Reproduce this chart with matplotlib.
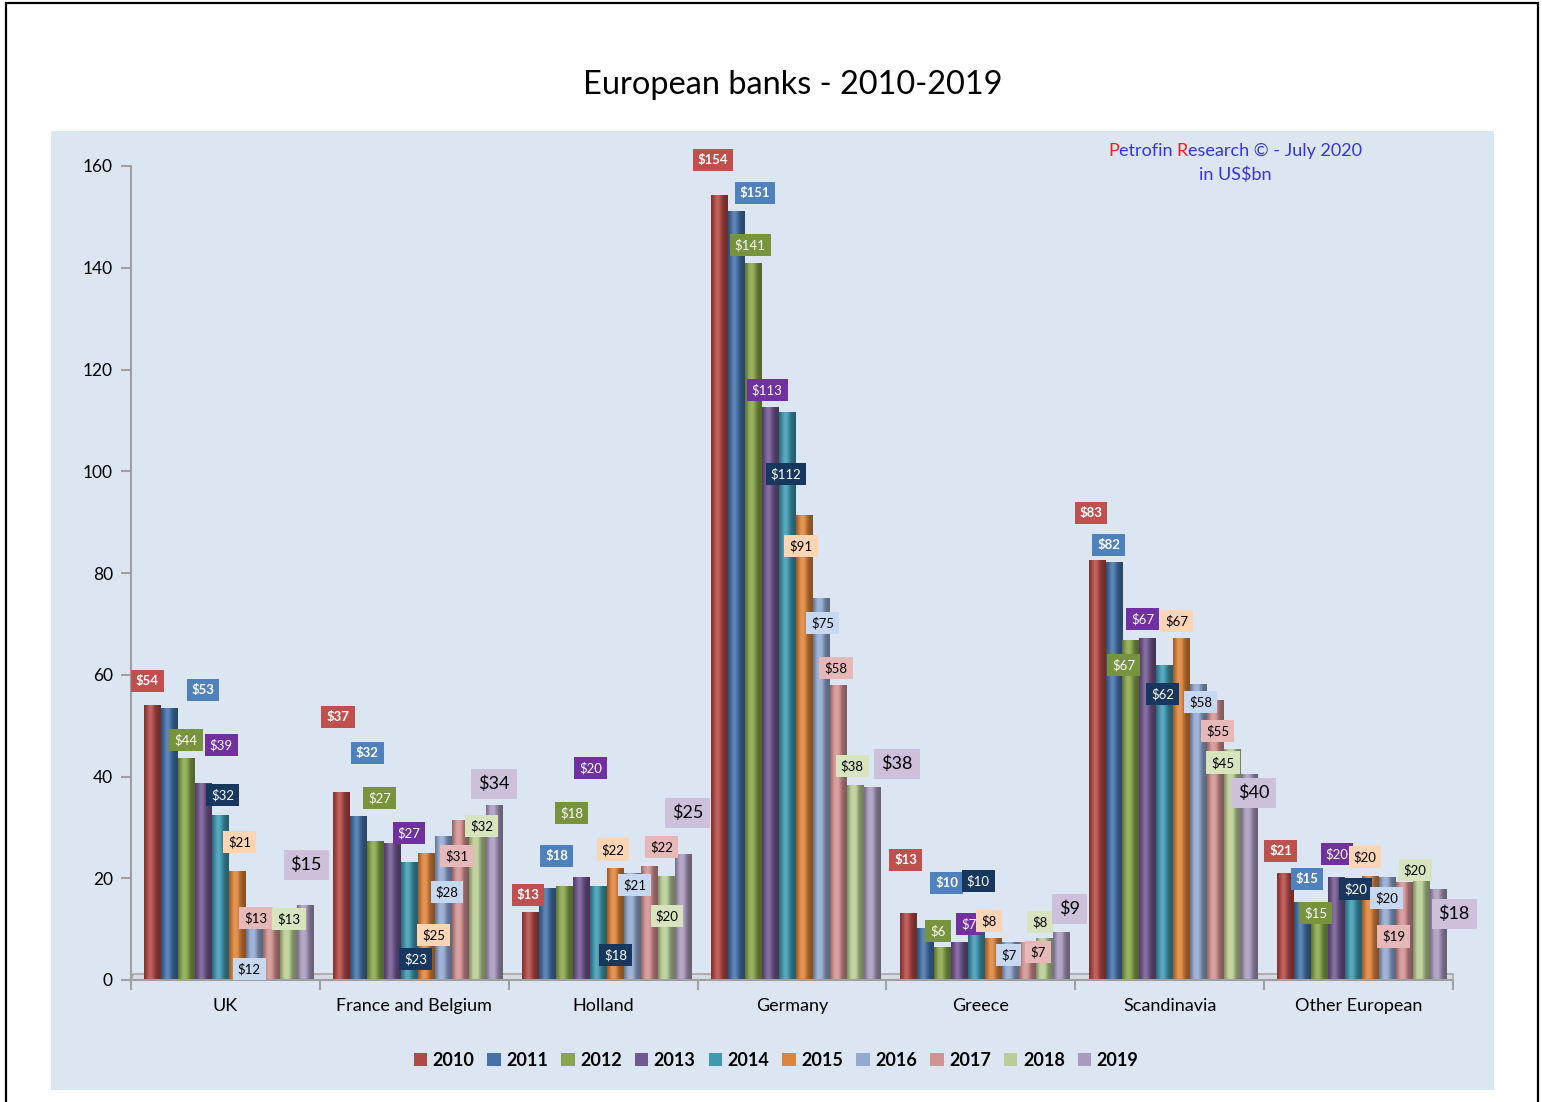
import numpy as np
import matplotlib
matplotlib.use('Agg')
import matplotlib.pyplot as plt
from matplotlib.patches import Rectangle, Polygon, Patch
from matplotlib.colors import to_rgb

plt.rcParams['font.family'] = ['Lato', 'DejaVu Sans']

# --- data (US$bn) ---
categories = ['UK', 'France and Belgium', 'Holland', 'Germany', 'Greece', 'Scandinavia', 'Other European']
years = [2010, 2011, 2012, 2013, 2014, 2015, 2016, 2017, 2018, 2019]

v2010 = [54.0, 37.0, 13.4, 154.3, 13.2, 82.6, 21.0]
v2011 = [53.4, 32.2, 18.1, 151.2, 10.2, 82.1, 15.3]
v2012 = [43.7, 27.4, 18.4, 140.9, 6.4, 66.8, 14.8]
v2013 = [38.8, 26.9, 20.3, 112.6, 7.4, 67.3, 20.2]
v2014 = [32.4, 23.1, 18.4, 111.6, 9.6, 61.9, 20.1]
v2015 = [21.4, 25.0, 22.1, 91.4, 8.3, 67.2, 20.4]
v2016 = [12.4, 28.4, 21.0, 75.1, 7.4, 58.2, 20.2]
v2017 = [13.0, 31.4, 22.4, 57.9, 7.4, 55.0, 19.3]
v2018 = [13.0, 32.4, 20.4, 38.4, 8.2, 45.4, 20.3]
v2019 = [14.8, 34.3, 24.8, 37.9, 9.4, 40.4, 17.9]
series = [v2010, v2011, v2012, v2013, v2014, v2015, v2016, v2017, v2018, v2019]

# --- styles ---
bar_colors = ['#b04a47', '#4572a7', '#89a54e', '#71588f', '#4198af',
              '#db843d', '#93a9cf', '#d19392', '#b9cd96', '#a99bbd']
box_colors = ['#c0504d', '#4f81bd', '#77933c', '#7030a0', '#17375e',
              '#fcd5b5', '#c6d9f1', '#e6b9b8', '#d7e4bd', '#ccc0da']
text_colors = ['white'] * 5 + ['black'] * 5
text_weights = ['bold', 'bold', 'normal', 'normal', 'normal',
                'normal', 'normal', 'normal', 'normal', 'normal']
text_sizes = [9.5] * 9 + [13]

# label placement (offset from group centre in group widths, height in data units)
label_xy = {
    2010: [(-0.415, 58.8), (-0.404, 51.7), (-0.398, 16.7), (-0.418, 161.2), (-0.397, 23.6), (-0.417, 91.8), (-0.411, 25.4)],
    2011: [(-0.119, 57.0), (-0.250, 44.6), (-0.245, 24.4), (-0.196, 154.7), (-0.180, 19.1), (-0.322, 85.5), (-0.273, 19.9)],
    2012: [(-0.209, 47.2), (-0.182, 35.8), (-0.165, 32.8), (-0.222, 144.5), (-0.227, 9.6), (-0.243, 61.9), (-0.226, 13.2)],
    2013: [(-0.023, 46.2), (-0.028, 28.9), (-0.065, 41.7), (-0.132, 116.0), (-0.063, 11.0), (-0.142, 71.0), (-0.114, 24.8)],
    2014: [(-0.013, 36.4), (0.009, 4.1), (0.068, 4.9), (-0.032, 99.5), (-0.015, 19.5), (-0.036, 56.2), (-0.014, 17.9)],
    2015: [(0.077, 27.1), (0.104, 8.8), (0.052, 25.6), (0.048, 85.3), (0.043, 11.6), (0.038, 70.6), (0.034, 24.2)],
    2016: [(0.125, 2.2), (0.173, 17.3), (0.168, 18.7), (0.164, 70.2), (0.148, 4.9), (0.165, 54.6), (0.150, 16.1)],
    2017: [(0.162, 12.2), (0.226, 24.4), (0.311, 26.1), (0.233, 61.3), (0.302, 5.5), (0.255, 48.9), (0.187, 8.6)],
    2018: [(0.337, 12.0), (0.358, 30.3), (0.338, 12.6), (0.318, 42.1), (0.313, 11.4), (0.282, 42.7), (0.300, 21.6)],
    2019: [(0.427, 22.6), (0.422, 38.5), (0.449, 32.8), (0.556, 42.5), (0.471, 14.0), (0.445, 36.8), (0.506, 13.0)],
}

W, H = 1542, 1102
fig = plt.figure(figsize=(W / 100, H / 100), dpi=100)
fig.patch.set_facecolor('white')

# chart area background and outer frame
fig.patches.append(Rectangle((51 / W, 1 - 1090 / H), (1494 - 51) / W, (1090 - 131) / H,
                             transform=fig.transFigure, fc='#dce6f2', ec='none', zorder=-5))
fig.patches.append(Rectangle((6 / W, -0.02), (1538 - 6) / W, 1 - 3 / H + 0.02,
                             transform=fig.transFigure, fill=False, ec='black', lw=1.6, zorder=-4))

ax = fig.add_axes([131 / W, 1 - 980 / H, (1453 - 131) / W, (980 - 166) / H])
ax.set_facecolor('none')

# floor
floor = Polygon([(-0.5, 0), (6.5, 0), (6.5, 1.1), (-0.5 + 0.012, 1.1)], closed=True,
                fc='#d6dbe3', ec='#a6a6a6', lw=1.2, zorder=1, clip_on=False)
ax.add_patch(floor)

x = np.arange(len(categories))
bw = 0.09
t = np.linspace(0, 1, 48)
prof = 0.62 + 0.55 * np.exp(-((t - 0.38) / 0.28) ** 2)


def shaded(c):
    c = np.array(to_rgb(c))
    out = np.empty((1, len(t), 3))
    for k, f in enumerate(prof):
        if f <= 1:
            out[0, k] = c * f
        else:
            out[0, k] = c + (1 - c) * (f - 1) * 0.9
    return np.clip(out, 0, 1)


for j, (yr, vals) in enumerate(zip(years, series)):
    xs = x + (j - 4.5) * bw + 0.02
    bars = ax.bar(xs, vals, width=bw, color=bar_colors[j], edgecolor='none', zorder=2)
    img = shaded(bar_colors[j])
    for b in bars:
        x0, w, h = b.get_x(), b.get_width(), b.get_height()
        im = ax.imshow(img, extent=(x0, x0 + w, 0, h), aspect='auto',
                       interpolation='bilinear', zorder=2.5)
        im.set_clip_path(b)
    # value labels
    for i, v in enumerate(vals):
        dx, ly = label_xy[yr][i]
        ax.text(i + dx, ly, f'${v:.0f}', ha='center', va='center',
                fontsize=text_sizes[j], color=text_colors[j], fontweight=text_weights[j],
                zorder=10 + j, clip_on=False,
                bbox=dict(boxstyle='square,pad=0.38', fc=box_colors[j], ec='none'))

ax.set_xlim(-0.5, 6.5)
ax.set_ylim(0, 160)

for s in ['top', 'right']:
    ax.spines[s].set_visible(False)
ax.spines['left'].set_color('#a0a0a0')
ax.spines['left'].set_linewidth(1.5)
ax.spines['bottom'].set_color('#a0a0a0')
ax.spines['bottom'].set_linewidth(1.5)

ax.set_yticks(np.arange(0, 161, 20))
ax.tick_params(axis='y', direction='out', length=7, width=1.5, color='#a0a0a0',
               labelsize=12.5, pad=6)
ax.set_xticks(x)
ax.set_xticklabels(categories)
ax.set_xticks(np.arange(-0.5, 6.6, 1), minor=True)
ax.tick_params(axis='x', which='major', length=0, labelsize=13, pad=13)
ax.tick_params(axis='x', which='minor', direction='out', length=7, width=1.5, color='#a0a0a0')

# title
fig.text(793 / W, 1 - 85 / H, 'European banks - 2010-2019', ha='center', va='center', fontsize=23.4)

# legend
handles = [Patch(fc=c, ec='none') for c in bar_colors]
fig.legend(handles, [str(y) for y in years], loc='center', ncol=10,
           bbox_to_anchor=(776 / W, 1 - 1060 / H), frameon=False,
           prop={'weight': 'bold', 'size': 13}, handlelength=0.75, handleheight=0.75,
           handletextpad=0.3, columnspacing=0.72)

# source note with red initials
blue, red = '#3535e6', '#ff1a1a'
pieces = [('P', red), ('etrofin ', blue), ('R', red), ('esearch \u00a9 - July 2020', blue)]
full = ''.join(p for p, _ in pieces)
renderer = fig.canvas.get_renderer()


def width_px(s):
    tt = fig.text(0, 0, s, fontsize=13)
    w = tt.get_window_extent(renderer).width
    tt.remove()
    return w


total = width_px(full)
left = 1235 - total / 2
prefix = ''
for s, c in pieces:
    off = width_px(prefix + s[0]) - width_px(s[0]) if prefix else 0
    fig.text((left + off) / W, 1 - 151 / H, s, ha='left', va='center', fontsize=13, color=c)
    prefix += s
fig.text(1235 / W, 1 - 175 / H, 'in US$bn', ha='center', va='center', fontsize=13, color=blue)

fig.savefig('out.png', dpi=100)
